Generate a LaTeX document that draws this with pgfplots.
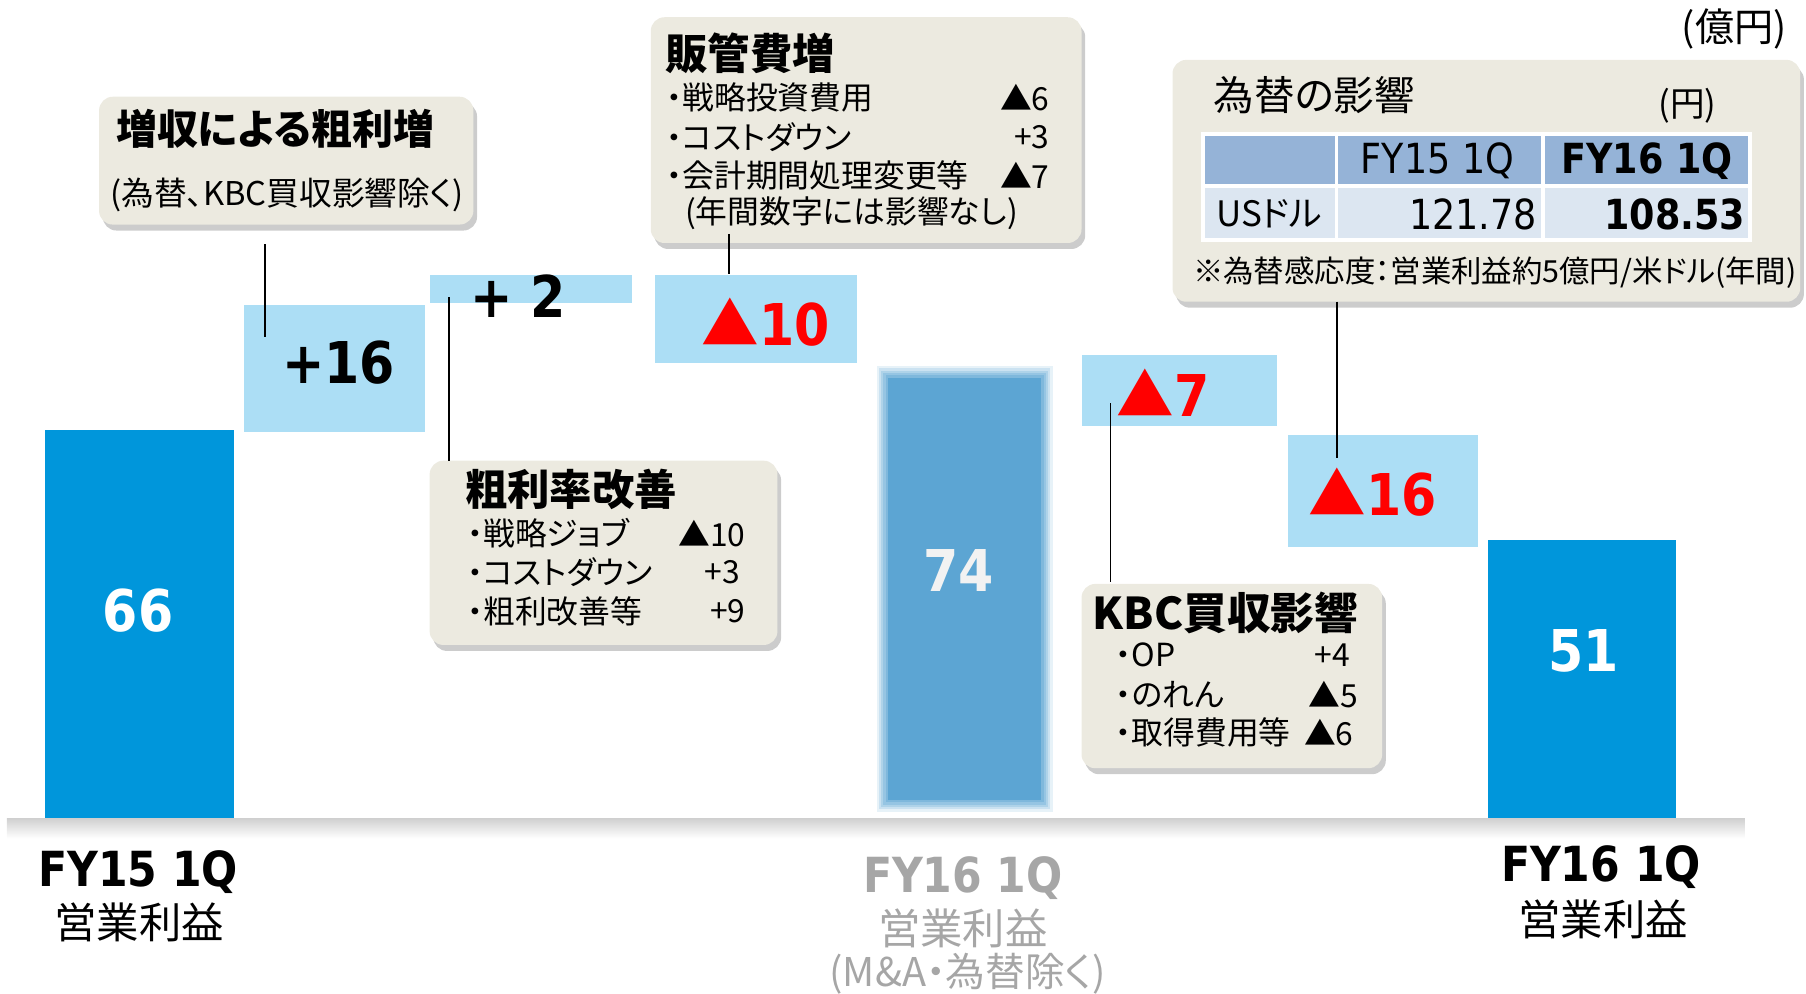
\documentclass[border=0pt]{standalone}
\usepackage{fontspec}
\setmainfont{Noto Sans CJK JP}[RawFeature={+palt}]
\newfontfamily\dv[FakeStretch=0.88]{DejaVu Sans}
\usepackage{pgfplots}
\pgfplotsset{compat=1.18}
\usetikzlibrary{shadows}

\definecolor{barblue}{RGB}{0,150,219}
\definecolor{midblue}{RGB}{92,165,211}
\definecolor{lightblue}{RGB}{172,222,245}
\definecolor{callfill}{RGB}{236,234,224}
\definecolor{hdrblue}{RGB}{149,179,215}
\definecolor{rowblue}{RGB}{220,230,241}
\definecolor{greytxt}{RGB}{166,166,166}
\definecolor{redtxt}{RGB}{255,0,0}

\newcommand\fs[1]{\fontsize{#1}{#1}\selectfont}
% positions below are picture pixels: x from the left, y from the top (baseline at 711, 5.12 px per unit)
\newcommand\txt[4][]{\node[inner sep=0pt,#1] at (axis cs:#2,{(711-#3)/5.12}) {#4};}
\newcommand\callout[4]{\fill[callfill,rounded corners=3pt,
  drop shadow={shadow xshift=0.8pt,shadow yshift=-1.3pt,opacity=0.4,fill=black!50}]
  (axis cs:#1,{(711-#2)/5.12}) rectangle (axis cs:#3,{(711-#4)/5.12});}
\newcommand\cell[5]{\fill[#5] (axis cs:#1,{(711-#2)/5.12}) rectangle (axis cs:#3,{(711-#4)/5.12});}
\newcommand\leader[3]{\draw[line width=0.35pt] (axis cs:#1,{(711-#2)/5.12}) -- (axis cs:#1,{(711-#3)/5.12});}

\begin{document}
\begin{tikzpicture}
\begin{axis}[
  width=392pt,height=215.75pt,scale only axis,
  xmin=0,xmax=1568,ymin=-29.6875,ymax=138.8672,
  axis lines=none,clip=false,no markers
]
% totals
\addplot[fill=barblue,draw=none] coordinates {(39,0) (203,0) (203,66) (39,66)} -- cycle;
\addplot[fill=barblue,draw=none] coordinates {(1292,0) (1455,0) (1455,47.27) (1292,47.27)} -- cycle;
% FY16 1Q before M&A / FX, soft edges built from stacked translucent layers
\addplot[fill=midblue,fill opacity=0.15,draw=none] coordinates {(761,1.2) (914,1.2) (914,76.8) (761,76.8)} -- cycle;
\addplot[fill=midblue,fill opacity=0.2,draw=none] coordinates {(763,1.6) (912,1.6) (912,76.4) (763,76.4)} -- cycle;
\addplot[fill=midblue,fill opacity=0.25,draw=none] coordinates {(765,2.0) (910,2.0) (910,76.0) (765,76.0)} -- cycle;
\addplot[fill=midblue,fill opacity=0.3,draw=none] coordinates {(767,2.4) (908,2.4) (908,75.6) (767,75.6)} -- cycle;
\addplot[fill=midblue,fill opacity=0.4,draw=none] coordinates {(769,2.8) (906,2.8) (906,75.2) (769,75.2)} -- cycle;
\addplot[fill=midblue,draw=none] coordinates {(771,3.2) (904,3.2) (904,74.8) (771,74.8)} -- cycle;
% steps
\addplot[fill=lightblue,draw=none] coordinates {(212,65.63) (369,65.63) (369,87.11) (212,87.11)} -- cycle;
\addplot[fill=lightblue,draw=none] coordinates {(373,87.5) (549,87.5) (549,92.19) (373,92.19)} -- cycle;
\addplot[fill=lightblue,draw=none] coordinates {(569,77.34) (744,77.34) (744,92.19) (569,92.19)} -- cycle;
\addplot[fill=lightblue,draw=none] coordinates {(939,66.6) (1109,66.6) (1109,78.71) (939,78.71)} -- cycle;
\addplot[fill=lightblue,draw=none] coordinates {(1118,46.09) (1283,46.09) (1283,65.04) (1118,65.04)} -- cycle;

% base line band
\fill[top color=black!18,bottom color=white] (axis cs:6,0) rectangle (axis cs:1515,-3.3);

% callout boxes
\callout{86}{84}{411}{195}
\callout{565}{15}{939}{211}
\callout{373}{400}{675}{560}
\callout{939}{507}{1200}{667}
\callout{1018}{52}{1563}{262}

% connector lines
\leader{230}{212}{293}
\leader{633}{203}{238}
\leader{390}{258}{400}
\leader{964}{350}{505}
\leader{1161}{262}{398}

% bar labels
\txt[text=white,font=\dv\bfseries\fs{12.5pt}]{120}{530}{66}
\txt[font=\dv\bfseries\fs{12.5pt}]{294}{315}{+16}
\txt[font=\dv\bfseries\fs{12.5pt}]{450}{257}{+ 2}
\txt[text=redtxt,font=\bfseries\fs{12.5pt}]{665}{280}{▲{\dv 10}}
\txt[text=white!95!black,font=\dv\bfseries\fs{12.5pt}]{832}{495}{74}
\txt[text=redtxt,font=\bfseries\fs{12.5pt}]{1010}{341}{▲{\dv 7}}
\txt[text=redtxt,font=\bfseries\fs{12.5pt}]{1192}{427}{▲{\dv 16}}
\txt[text=white,font=\dv\bfseries\fs{12.5pt}]{1375}{565}{51}

% category labels
\txt[font=\dv\bfseries\fs{10.5pt}]{120}{757}{FY15 1Q}
\txt[font=\fs{9.2pt}]{121}{801}{営業利益}
\txt[text=greytxt,font=\dv\bfseries\fs{10.5pt}]{836}{762}{FY16 1Q}
\txt[text=greytxt,font=\fs{9.2pt}]{836}{806}{営業利益}
\txt[text=greytxt,font=\fs{8.6pt}]{840}{845}{(M\&A・為替除く)}
\txt[font=\dv\bfseries\fs{10.5pt}]{1390}{753}{FY16 1Q}
\txt[font=\fs{9.2pt}]{1392}{798}{営業利益}

% unit
\txt[anchor=east,font=\fs{8.5pt}]{1552}{25}{(億円)}

% gross profit from sales growth
\txt[anchor=west,font=\bfseries\fs{8.9pt}]{100}{112}{増収による粗利増}
\txt[anchor=west,font=\fs{7.1pt}]{95}{169}{(為替、KBC買収影響除く)}

% SG&A
\txt[anchor=west,font=\bfseries\fs{9.2pt}]{577}{46}{販管費増}
\txt[anchor=west,font=\fs{6.9pt}]{578}{85}{・戦略投資費用}
\txt[anchor=west,font=\fs{6.9pt}]{578}{119}{・コストダウン}
\txt[anchor=west,font=\fs{6.9pt}]{578}{152}{・会計期間処理変更等}
\txt[anchor=west,font=\fs{6.9pt}]{594}{185}{(年間数字には影響なし)}
\txt[anchor=east,font=\fs{6.9pt}]{912}{85}{▲6}
\txt[anchor=east,font=\fs{6.9pt}]{912}{119}{+3}
\txt[anchor=east,font=\fs{6.9pt}]{912}{152}{▲7}

% gross margin
\txt[anchor=west,font=\bfseries\fs{9.2pt}]{403}{425}{粗利率改善}
\txt[anchor=west,font=\fs{6.9pt}]{405}{463}{・戦略ジョブ}
\txt[anchor=west,font=\fs{6.9pt}]{405}{497}{・コストダウン}
\txt[anchor=west,font=\fs{6.9pt}]{405}{531}{・粗利改善等}
\txt[anchor=east,font=\fs{6.9pt}]{648}{463}{▲10}
\txt[anchor=east,font=\fs{6.9pt}]{643}{497}{+3}
\txt[anchor=east,font=\fs{6.9pt}]{648}{531}{+9}

% KBC
\txt[anchor=west,font=\bfseries\fs{9.5pt}]{948}{532}{KBC買収影響}
\txt[anchor=west,font=\fs{6.9pt}]{968}{569}{・OP}
\txt[anchor=west,font=\fs{6.9pt}]{968}{603}{・のれん}
\txt[anchor=west,font=\fs{6.9pt}]{968}{636}{・取得費用等}
\txt[anchor=east,font=\fs{6.9pt}]{1173}{569}{+4}
\txt[anchor=east,font=\fs{6.9pt}]{1180}{603}{▲5}
\txt[anchor=east,font=\fs{6.9pt}]{1176}{636}{▲6}

% FX
\txt[anchor=west,font=\fs{8.8pt}]{1053}{83}{為替の影響}
\txt[font=\fs{7.5pt}]{1465}{92}{(円)}
\cell{1043}{115}{1521}{210}{white}
\cell{1046}{118}{1159}{160}{hdrblue}
\cell{1162}{118}{1338}{160}{hdrblue}
\cell{1341}{118}{1518}{160}{hdrblue}
\cell{1046}{163}{1159}{207}{rowblue}
\cell{1162}{163}{1338}{207}{rowblue}
\cell{1341}{163}{1518}{207}{rowblue}
\txt[font=\dv\fs{9pt}]{1248}{140}{FY15 1Q}
\txt[font=\dv\bfseries\fs{9pt}]{1430}{140}{FY16 1Q}
\txt[font=\fs{7.6pt}]{1102}{186}{USドル}
\txt[anchor=east,font=\dv\fs{9pt}]{1335}{186}{121.78}
\txt[anchor=east,font=\dv\bfseries\fs{9pt}]{1516}{186}{108.53}
\txt[anchor=west,font=\fs{6.6pt}]{1035}{237}{※為替感応度：営業利益約5億円/米ドル(年間)}
\end{axis}
\pgfresetboundingbox
\path[use as bounding box] (current axis.south west) rectangle (current axis.north east);
\end{tikzpicture}
\end{document}
